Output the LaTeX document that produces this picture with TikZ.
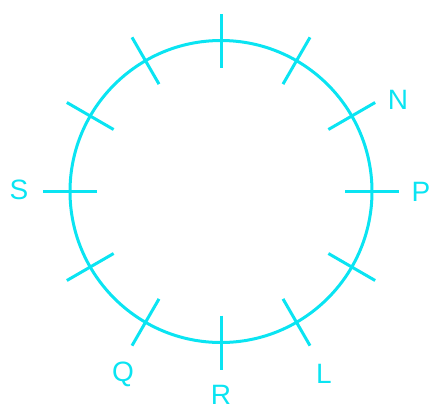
\documentclass[tikz,border=0pt]{standalone}
\usepackage{fontspec}
\setmainfont{Liberation Sans}
\definecolor{cy}{RGB}{10,228,242}
\begin{document}
\begin{tikzpicture}[x=1pt,y=-1pt,
  ring/.style={draw=cy,line width=3pt},
  tick/.style={draw=cy,line width=3pt},
  lab/.style={text=cy,font=\fontsize{28}{28}\selectfont,inner sep=0pt,anchor=center}]
\useasboundingbox (0,0) rectangle (433,408);
\coordinate (c) at (221,191.5);
\node[circle,ring,minimum size=302pt,inner sep=0pt] (ring) at (c) {};
\foreach \a in {0,30,...,330}{
  \draw[tick] ([shift={(\a:124pt)}]c) -- ([shift={(\a:178pt)}]c);
}
\node[lab] (N) at (398,100) {N};
\node[lab] (P) at (421,192) {P};
\node[lab] (L) at (324,374) {L};
\node[lab] (R) at (221,395) {R};
\node[lab] (Q) at (123,374) {Q};
\node[lab] (S) at (19,190) {S};
\end{tikzpicture}
\end{document}
